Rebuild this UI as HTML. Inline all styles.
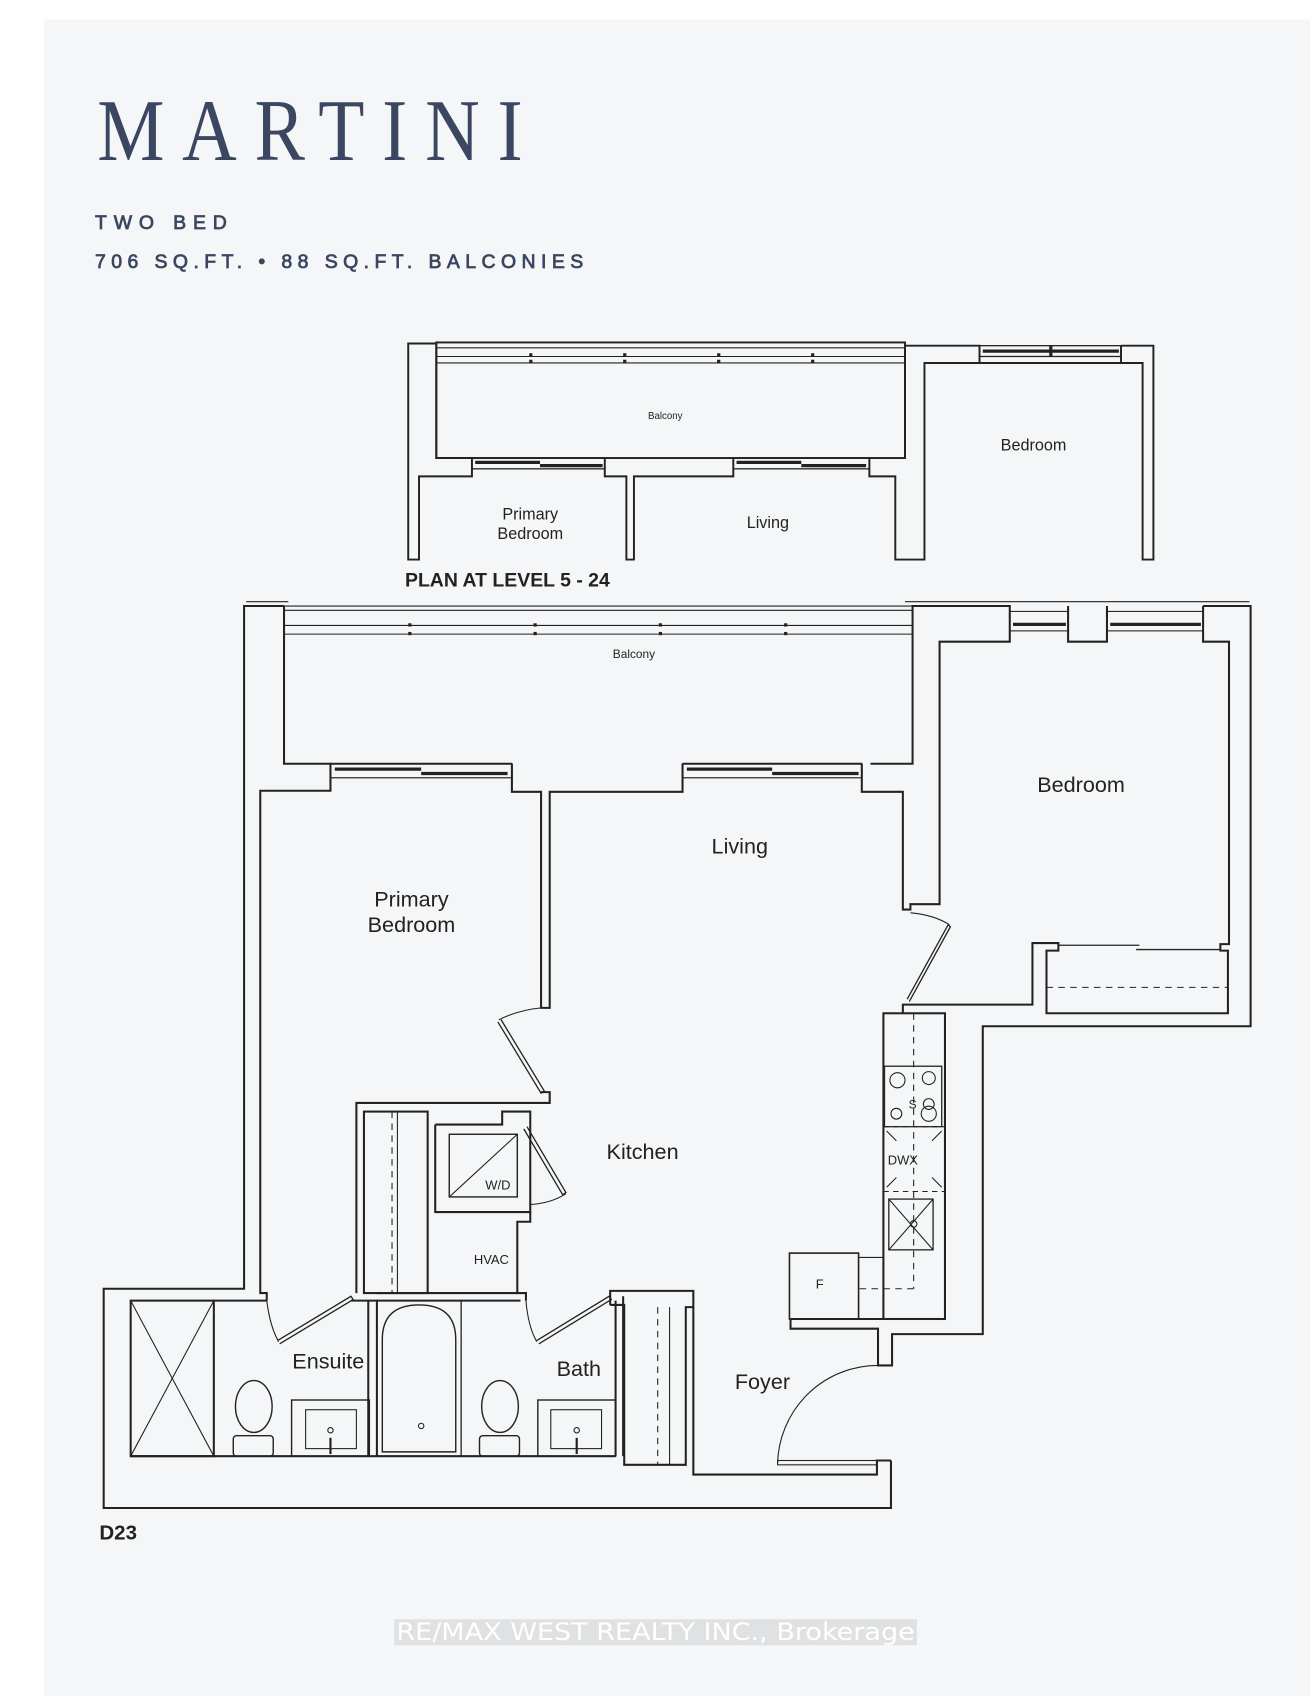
<!DOCTYPE html>
<html><head><meta charset="utf-8"><style>
html,body{margin:0;padding:0;background:#fff;}
svg{display:block;}
text{font-family:"Liberation Sans",sans-serif;fill:#222;}
</style></head><body>
<svg width="1310" height="1696" viewBox="0 0 1213 1570" preserveAspectRatio="none" xmlns="http://www.w3.org/2000/svg">
<rect x="41" y="18" width="1172" height="1552" fill="#f4f6f7"/>
<g transform="translate(90,148) scale(1,1.17)">
<text x="0" y="0" font-size="70" textLength="394" lengthAdjust="spacing" style="fill:#3b4661;font-family:'Liberation Serif',serif">MARTINI</text>
</g>
<text x="88" y="212" font-size="18" textLength="122" lengthAdjust="spacing" style="fill:#3b4661;stroke:#3b4661;stroke-width:0.7">TWO BED</text>
<text x="88" y="248" font-size="18" textLength="452" lengthAdjust="spacing" style="fill:#3b4661;stroke:#3b4661;stroke-width:0.7">706 SQ.FT. • 88 SQ.FT. BALCONIES</text>

<g fill="none" stroke="#222" stroke-width="1.8">
<polyline points="404,318 378,318 378,518 388,518 388,441 437,441 437,424 404,424 404,318"/>
<rect x="404" y="317" width="434" height="107"/>
<line x1="404" y1="322" x2="838" y2="322" stroke-width="1"/>
<line x1="404" y1="330" x2="838" y2="330" stroke-width="1"/>
<line x1="404" y1="336" x2="838" y2="336" stroke-width="1"/>
<polyline points="560,424 560,441 580,441 580,518 587,518 587,441 679,441 679,424"/>
<polyline points="805,424 805,441 829,441 829,518 856,518 856,336 907,336 907,320 838,320 838,424"/>
<polyline points="1038,320 1068,320 1068,518 1058,518 1058,336 1038,336 1038,320"/>
<line x1="907" y1="336" x2="1038" y2="336"/>
<g stroke-width="1.2"><rect x="437" y="424" width="123" height="10"/><rect x="679" y="424" width="126" height="10"/><rect x="907" y="320" width="131" height="10"/></g>
<g stroke-width="3"><line x1="440" y1="428" x2="500" y2="428"/><line x1="500" y1="431" x2="558" y2="431"/><line x1="682" y1="428" x2="742" y2="428"/><line x1="742" y1="431" x2="802" y2="431"/><line x1="910" y1="325" x2="1036" y2="325"/><line x1="973" y1="320" x2="973" y2="330"/></g>
</g>
<g fill="#222"><rect x="490" y="327" width="3" height="3"/><rect x="490" y="333" width="3" height="3"/><rect x="577" y="327" width="3" height="3"/><rect x="577" y="333" width="3" height="3"/><rect x="664" y="327" width="3" height="3"/><rect x="664" y="333" width="3" height="3"/><rect x="751" y="327" width="3" height="3"/><rect x="751" y="333" width="3" height="3"/></g>
<text x="616" y="388" font-size="9" text-anchor="middle">Balcony</text>
<text x="491" y="481" font-size="15" text-anchor="middle">Primary</text>
<text x="491" y="499" font-size="15" text-anchor="middle">Bedroom</text>
<text x="711" y="489" font-size="15" text-anchor="middle">Living</text>
<text x="957" y="417" font-size="15" text-anchor="middle">Bedroom</text>
<text x="375" y="543" font-size="18" font-weight="bold">PLAN AT LEVEL 5 - 24</text>

<g fill="none" stroke="#222" stroke-width="1.9">
<line x1="228" y1="557" x2="267" y2="557" stroke-width="1"/>
<line x1="838" y1="557" x2="1157" y2="557" stroke-width="1"/>
<polyline points="263,561 226,561 226,1193 96,1193 96,1396 825,1396 825,1352"/>
<polyline points="263,561 263,707 306,707 306,732 241,732 241,1197 247,1197 247,1204"/>
<g stroke-width="1"><line x1="263" y1="561" x2="845" y2="561"/><line x1="263" y1="565" x2="845" y2="565"/><line x1="263" y1="579" x2="845" y2="579"/><line x1="263" y1="587" x2="845" y2="587"/></g>
<polyline points="474,707 474,733 501,733 501,933 509,933 509,733 632,733 632,707"/>
<polyline points="798,707 798,733 836,733 836,842 843,842 843,837 870,837 870,594 935,594 935,561 845,561 845,707 806,707"/>
<line x1="306" y1="707" x2="474" y2="707"/><line x1="632" y1="707" x2="798" y2="707"/>
<g stroke-width="1.1"><rect x="306" y="707" width="168" height="13"/><rect x="632" y="707" width="166" height="13"/></g>
<g stroke-width="3"><line x1="310" y1="712" x2="390" y2="712"/><line x1="390" y1="716" x2="470" y2="716"/><line x1="636" y1="712" x2="715" y2="712"/><line x1="715" y1="716" x2="795" y2="716"/><line x1="938" y1="578" x2="987" y2="578"/><line x1="1028" y1="578" x2="1112" y2="578"/></g>
<rect x="935" y="566" width="54" height="18" stroke-width="1"/><rect x="1025" y="566" width="89" height="18" stroke-width="1"/>
<polyline points="989,561 989,594 1025,594 1025,561"/>
<polyline points="1114,561 1158,561 1158,950 910,950 910,1235 826,1235 826,1264 813,1264 813,1230 732,1230 732,1221"/>
<polyline points="1114,561 1114,594 1138,594 1138,874 1130,874 1130,880 1137,880 1137,938 969,938 969,880 980,880 980,873 956,873 956,930 836,930 836,938"/>
<line x1="980" y1="875" x2="1055" y2="875" stroke-width="1.2"/><line x1="1052" y1="879" x2="1130" y2="879" stroke-width="1.2"/>
<line x1="969" y1="914" x2="1137" y2="914" stroke-dasharray="6,5" stroke-width="1"/>
<polyline points="840,925 878,856 880,858 842,927" stroke-width="1.2"/>
<path d="M843,845 Q865,847 879,856" stroke-width="1"/>
<polyline points="464,944 504,1010 501,1012 461,946" stroke-width="1.2"/>
<path d="M462,944 Q480,935 501,933" stroke-width="1"/>
<rect x="818" y="938" width="57" height="283"/>
<rect x="819" y="987" width="53" height="56" stroke-width="1.2"/>
<line x1="818" y1="1043" x2="875" y2="1043" stroke-dasharray="5,4" stroke-width="1"/>
<line x1="818" y1="1103" x2="875" y2="1103" stroke-dasharray="5,4" stroke-width="1"/>
<rect x="823" y="1110" width="41" height="47" stroke-width="1.2"/>
<line x1="823" y1="1110" x2="864" y2="1157" stroke-width="1"/><line x1="864" y1="1110" x2="823" y2="1157" stroke-width="1"/>
<circle cx="846" cy="1133" r="3" stroke-width="1"/>
<g stroke-width="1"><circle cx="831" cy="1000" r="7"/><circle cx="860" cy="998" r="6"/><circle cx="830" cy="1031" r="5"/><circle cx="860" cy="1031" r="7"/><circle cx="860" cy="1022" r="5"/>
<line x1="821" y1="1047" x2="830" y2="1056"/><line x1="872" y1="1047" x2="863" y2="1056"/><line x1="821" y1="1099" x2="830" y2="1090"/><line x1="872" y1="1099" x2="863" y2="1090"/></g>
<line x1="846" y1="938" x2="846" y2="1193" stroke-dasharray="6,5" stroke-width="1"/>
<line x1="846" y1="1193" x2="795" y2="1193" stroke-dasharray="6,5" stroke-width="1"/>
<rect x="731" y="1160" width="64" height="61" stroke-width="1.5"/>
<line x1="795" y1="1164" x2="818" y2="1164" stroke-width="1"/>
<line x1="732" y1="1221" x2="818" y2="1221"/>
<path d="M813,1264 A93,93 0 0 0 720,1355" stroke-width="1"/>
<rect x="720" y="1352" width="92" height="4" stroke-width="1"/>
<polyline points="642,1210 642,1365 812,1365 812,1352 825,1352"/>
<polyline points="565,1208 565,1195 642,1195 642,1210 635,1210 635,1356 578,1356 578,1208 565,1208"/>
<line x1="609" y1="1210" x2="609" y2="1356" stroke-dasharray="6,5" stroke-width="1"/>
<line x1="620" y1="1210" x2="620" y2="1356" stroke-width="1"/>
<rect x="121" y="1204" width="77" height="144"/>
<line x1="121" y1="1204" x2="198" y2="1348" stroke-width="1"/><line x1="198" y1="1204" x2="121" y2="1348" stroke-width="1"/>
<polyline points="121,1348 570,1348" />
<polyline points="198,1204 247,1204"/>
<polyline points="325,1204 349,1204 349,1348" />
<line x1="341" y1="1204" x2="341" y2="1348"/>
<polyline points="257,1241 325,1200 327,1203 259,1244" stroke-width="1.2"/>
<path d="M247,1204 Q250,1228 258,1242" stroke-width="1"/>
<ellipse cx="235" cy="1302" rx="17" ry="24" stroke-width="1.3"/>
<rect x="216" y="1329" width="37" height="19" rx="3" stroke-width="1.3"/>
<rect x="270" y="1296" width="72" height="52" stroke-width="1.3"/>
<rect x="283" y="1305" width="47" height="36" stroke-width="1"/>
<circle cx="306" cy="1324" r="2.5" stroke-width="1"/>
<line x1="306" y1="1331" x2="306" y2="1346" stroke-width="2"/>
<polyline points="349,1204 482,1204"/>
<line x1="427" y1="1204" x2="427" y2="1348" stroke-width="1.2"/>
<path d="M354,1344 L354,1240 Q354,1208 388,1208 Q422,1208 422,1240 L422,1344 Z" stroke-width="1.3"/>
<circle cx="390" cy="1320" r="2.5" stroke-width="1"/>
<ellipse cx="463" cy="1302" rx="17" ry="24" stroke-width="1.3"/>
<rect x="444" y="1329" width="37" height="19" rx="3" stroke-width="1.3"/>
<rect x="498" y="1296" width="72" height="52" stroke-width="1.3"/>
<rect x="510" y="1305" width="47" height="36" stroke-width="1"/>
<circle cx="534" cy="1324" r="2.5" stroke-width="1"/>
<line x1="534" y1="1331" x2="534" y2="1346" stroke-width="2"/>
<line x1="570" y1="1204" x2="570" y2="1348"/><line x1="577" y1="1200" x2="577" y2="1348"/>
<polyline points="497,1241 564,1200 566,1203 499,1244" stroke-width="1.2"/>
<path d="M487,1204 Q489,1228 497,1242" stroke-width="1"/>
<polyline points="330,1197 330,1021 509,1021 509,1011 501,1011"/>
<rect x="337" y="1029" width="59" height="168"/>
<line x1="363" y1="1029" x2="363" y2="1197" stroke-dasharray="6,5" stroke-width="1"/>
<line x1="368" y1="1029" x2="368" y2="1197" stroke-width="1"/>
<polyline points="403,1041 465,1041 465,1029 491,1029 491,1041 491,1122 403,1122 403,1041"/>
<rect x="416" y="1050" width="63" height="58" stroke-width="1.3"/>
<line x1="416" y1="1108" x2="479" y2="1050" stroke-width="1"/>
<polyline points="488,1043 524,1104 521,1106 485,1045" stroke-width="1.2"/>
<path d="M491,1115 Q510,1114 524,1105" stroke-width="1"/>
<polyline points="491,1122 491,1131 479,1131 479,1197 487,1197 487,1204"/>
<line x1="349" y1="1197" x2="479" y2="1197"/>
</g>
<g fill="#222"><rect x="378" y="577" width="3" height="3"/><rect x="378" y="585" width="3" height="3"/><rect x="494" y="577" width="3" height="3"/><rect x="494" y="585" width="3" height="3"/><rect x="610" y="577" width="3" height="3"/><rect x="610" y="585" width="3" height="3"/><rect x="726" y="577" width="3" height="3"/><rect x="726" y="585" width="3" height="3"/></g>
<text x="587" y="609" font-size="11" text-anchor="middle">Balcony</text>
<text x="1001" y="733" font-size="20" text-anchor="middle">Bedroom</text>
<text x="685" y="790" font-size="20" text-anchor="middle">Living</text>
<text x="381" y="839" font-size="20" text-anchor="middle">Primary</text>
<text x="381" y="863" font-size="20" text-anchor="middle">Bedroom</text>
<text x="595" y="1073" font-size="20" text-anchor="middle">Kitchen</text>
<text x="304" y="1267" font-size="20" text-anchor="middle">Ensuite</text>
<text x="536" y="1274" font-size="20" text-anchor="middle">Bath</text>
<text x="706" y="1286" font-size="20" text-anchor="middle">Foyer</text>
<text x="455" y="1170" font-size="12" text-anchor="middle">HVAC</text>
<text x="461" y="1101" font-size="12" text-anchor="middle">W/D</text>
<text x="759" y="1193" font-size="12" text-anchor="middle">F</text>
<text x="836" y="1078" font-size="12" text-anchor="middle">DWX</text>
<text x="845" y="1026" font-size="11" text-anchor="middle">S</text>
<text x="92" y="1425" font-size="19" font-weight="bold">D23</text>
<rect x="365" y="1499" width="484" height="24" fill="#dfe1e3"/>
<text x="607" y="1518" font-size="22" text-anchor="middle" textLength="480" lengthAdjust="spacingAndGlyphs" style="fill:#fff;font-family:'DejaVu Sans',sans-serif">RE/MAX WEST REALTY INC., Brokerage</text>
</svg>
</body></html>
